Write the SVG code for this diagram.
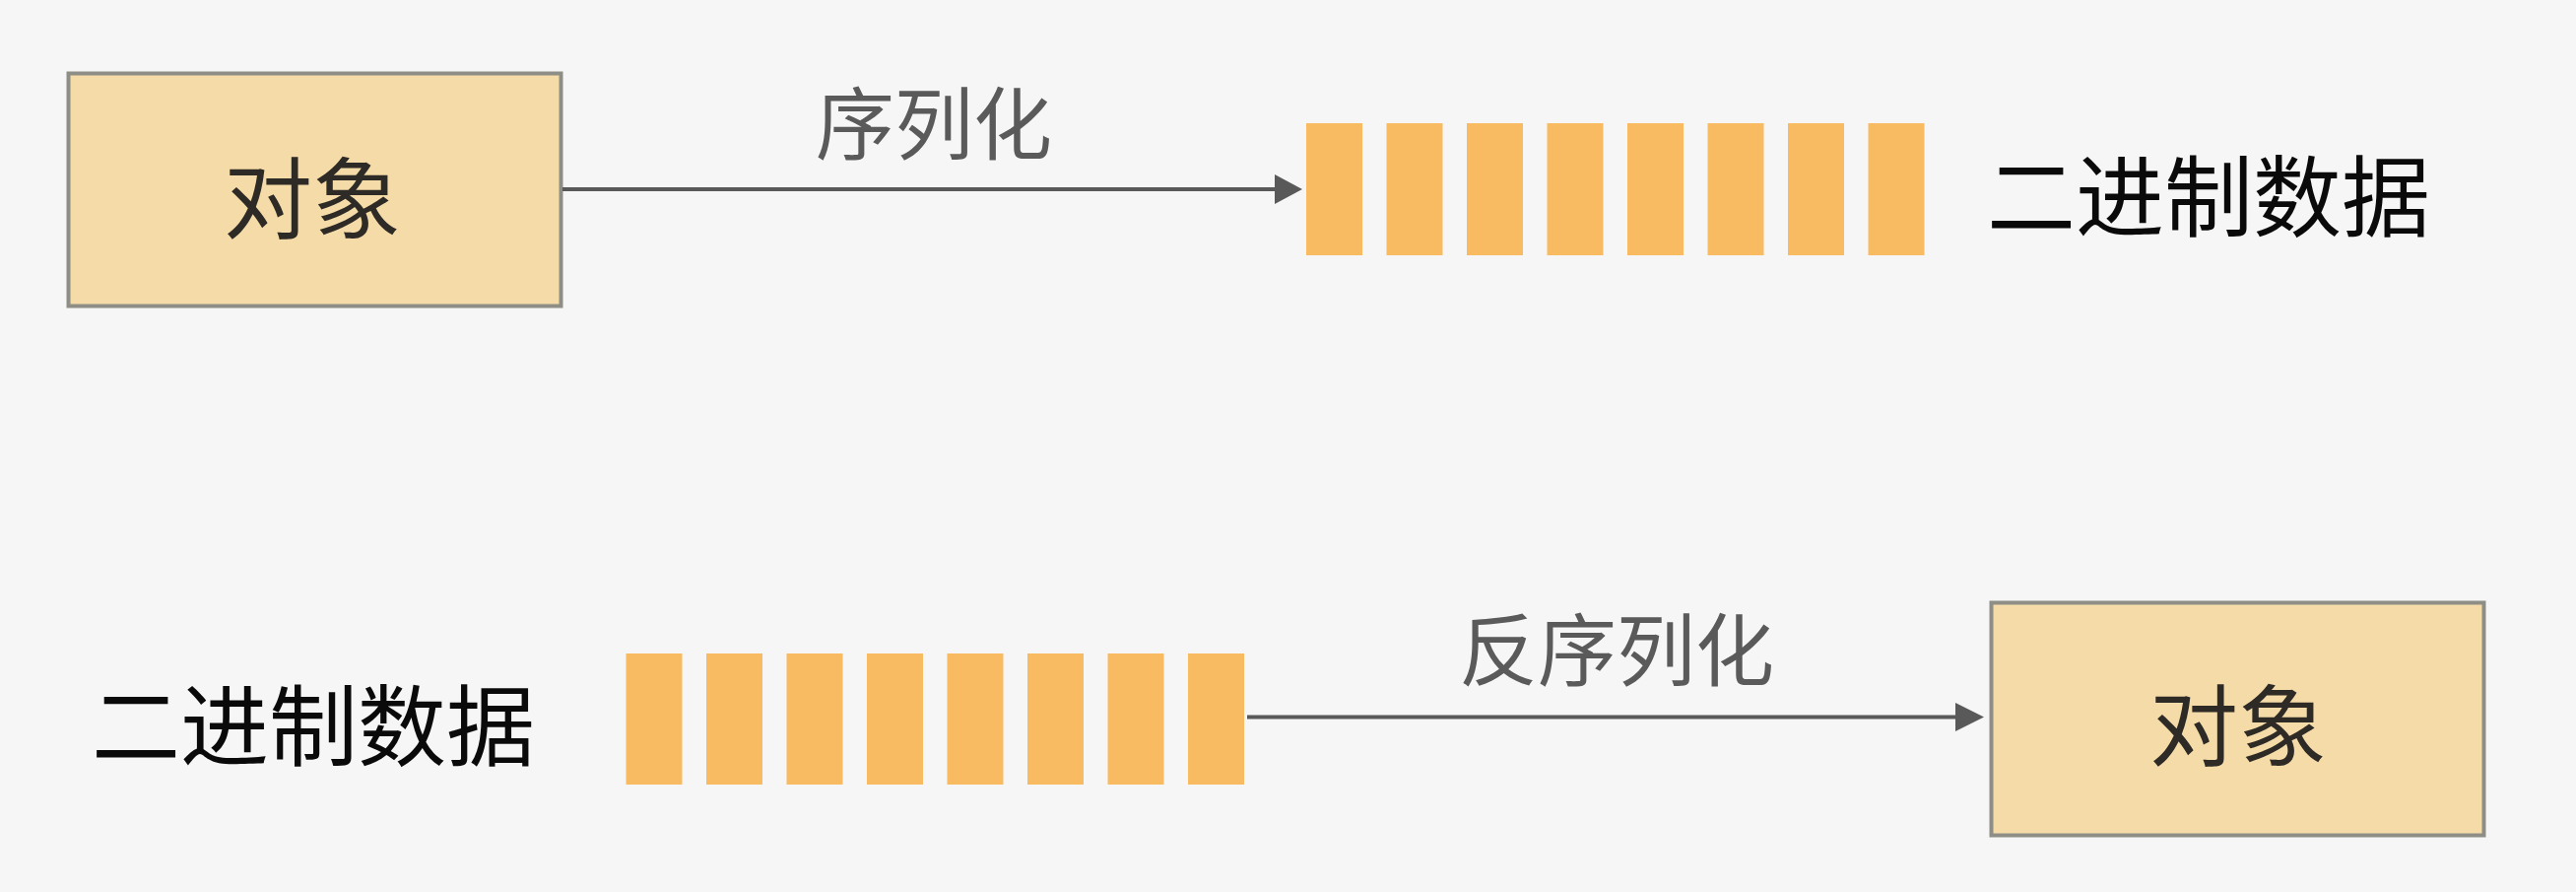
<svg xmlns="http://www.w3.org/2000/svg" width="2615" height="905" viewBox="0 0 2615 905">
  <style>
    .bg { fill: #f6f6f6; }
    .box { fill: #f4dba7; stroke: #8e8e86; stroke-width: 4; }
    .bar { fill: #f8bb62; }
    .conn { stroke: #595959; stroke-width: 4; fill: none; }
    .head { fill: #595959; }
    text { font-family: "Noto Sans CJK SC", "Noto Sans", sans-serif; text-anchor: middle; dominant-baseline: central; }
    .node-label { font-size: 90px; fill: #2e2a26; }
    .data-label { font-size: 90px; fill: #0a0a0a; }
    .edge-label { font-size: 80px; fill: #5a5a5a; }
  </style>
  <rect class="bg" x="0" y="0" width="2615" height="905"/>

  <g id="object-top">
    <rect class="box" x="69.5" y="74.5" width="500" height="236"/>
    <text class="node-label" x="317" y="196">对象</text>
  </g>

  <g id="binary-top">
    <rect class="bar" x="1326" y="125" width="57" height="134"/>
    <rect class="bar" x="1407.5" y="125" width="57" height="134"/>
    <rect class="bar" x="1489" y="125" width="57" height="134"/>
    <rect class="bar" x="1570.5" y="125" width="57" height="134"/>
    <rect class="bar" x="1652" y="125" width="57" height="134"/>
    <rect class="bar" x="1733.5" y="125" width="57" height="134"/>
    <rect class="bar" x="1815" y="125" width="57" height="134"/>
    <rect class="bar" x="1896.5" y="125" width="57" height="134"/>
  </g>
  <g id="binary-top-label">
    <text class="data-label" x="2242" y="194">二进制数据</text>
  </g>

  <g id="binary-bottom-label">
    <text class="data-label" x="318" y="731">二进制数据</text>
  </g>
  <g id="binary-bottom">
    <rect class="bar" x="635.5" y="663" width="57" height="133"/>
    <rect class="bar" x="717" y="663" width="57" height="133"/>
    <rect class="bar" x="798.5" y="663" width="57" height="133"/>
    <rect class="bar" x="880" y="663" width="57" height="133"/>
    <rect class="bar" x="961.5" y="663" width="57" height="133"/>
    <rect class="bar" x="1043" y="663" width="57" height="133"/>
    <rect class="bar" x="1124.5" y="663" width="57" height="133"/>
    <rect class="bar" x="1206" y="663" width="57" height="133"/>
  </g>

  <g id="object-bottom">
    <rect class="box" x="2021.5" y="611.5" width="500" height="236"/>
    <text class="node-label" x="2272" y="731">对象</text>
  </g>

  <g id="connectors">
    <line class="conn" x1="571" y1="192" x2="1298" y2="192"/>
    <polygon class="head" points="1294,177 1322,192 1294,207"/>
    <text class="edge-label" x="948" y="120">序列化</text>

    <line class="conn" x1="1266" y1="727.5" x2="1988" y2="727.5"/>
    <polygon class="head" points="1985,713 2014,727.5 1985,742"/>
    <text class="edge-label" x="1641" y="654">反序列化</text>
  </g>
</svg>
